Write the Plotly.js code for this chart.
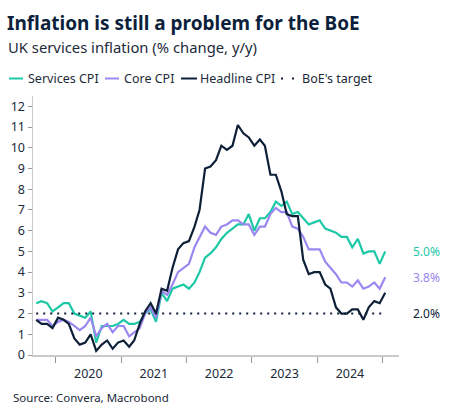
<!DOCTYPE html>
<html>
<head>
<meta charset="utf-8">
<script src="https://cdn.plot.ly/plotly-3.0.1.min.js"></script>
<style>
html,body{margin:0;padding:0;background:#fff;}
#chart{width:453px;height:417px;}
</style>
</head>
<body>
<div id="chart"></div>
<script>
// Monthly observations, Sep 2019 .. Jan 2025 (plotted mid-month)
var startYear = 2019, startMonth = 9, nMonths = 65;
var months = [];
for (var i = 0; i < nMonths; i++) {
  var m0 = startMonth - 1 + i;
  var y = startYear + Math.floor(m0 / 12);
  var m = (m0 % 12) + 1;
  months.push(y + '-' + (m < 10 ? '0' : '') + m + '-15');
}

var servicesCPI = [
  2.5, 2.6, 2.5, 2.1,
  2.3, 2.5, 2.5, 2.0, 1.9, 1.8, 2.1, 0.6, 1.4, 1.4, 1.4, 1.5,
  1.7, 1.5, 1.5, 1.6, 2.0, 2.2, 1.6, 3.0, 2.6, 3.2, 3.3, 3.4,
  3.2, 3.5, 4.0, 4.7, 4.9, 5.2, 5.6, 5.9, 6.1, 6.3, 6.3, 6.8,
  6.0, 6.6, 6.6, 6.9, 7.4, 7.2, 7.4, 6.8, 6.9, 6.6, 6.3, 6.4,
  6.5, 6.1, 6.0, 5.9, 5.7, 5.7, 5.2, 5.6, 4.9, 5.0, 5.0, 4.4,
  5.0
];
var coreCPI = [
  1.7, 1.7, 1.7, 1.4,
  1.6, 1.7, 1.6, 1.4, 1.2, 1.4, 1.8, 0.9, 1.3, 1.5, 1.1, 1.4,
  1.4, 0.9, 1.1, 1.3, 2.0, 2.3, 1.8, 3.1, 2.9, 3.4, 4.0, 4.2,
  4.4, 5.2, 5.7, 6.2, 5.9, 5.8, 6.2, 6.3, 6.5, 6.5, 6.3, 6.3,
  5.8, 6.2, 6.2, 6.8, 7.1, 6.9, 6.9, 6.2, 6.1, 5.7, 5.1, 5.1,
  5.1, 4.5, 4.2, 3.9, 3.5, 3.5, 3.3, 3.6, 3.2, 3.3, 3.5, 3.2,
  3.75
];
var headlineCPI = [
  1.7, 1.5, 1.5, 1.3,
  1.8, 1.7, 1.5, 0.8, 0.5, 0.6, 1.0, 0.2, 0.5, 0.7, 0.3, 0.6,
  0.7, 0.4, 0.7, 1.5, 2.1, 2.5, 2.0, 3.2, 3.1, 4.2, 5.1, 5.4,
  5.5, 6.2, 7.0, 9.0, 9.1, 9.4, 10.1, 9.9, 10.1, 11.1, 10.7, 10.5,
  10.1, 10.4, 10.1, 8.7, 8.7, 7.9, 6.8, 6.7, 6.7, 4.6, 3.9, 4.0,
  4.0, 3.4, 3.2, 2.3, 2.0, 2.0, 2.2, 2.2, 1.7, 2.3, 2.6, 2.5,
  3.0
];
var boeTarget = 2.0;
var targetLine = months.map(function () { return boeTarget; });

var seriesNames = ['Services CPI', 'Core CPI', 'Headline CPI', "BoE's target"];
var endLabels = ['5.0%', '3.8%', '2.0%'];
var yTickVals = [0,1,2,3,4,5,6,7,8,9,10,11,12];

var cTeal = '#1dc8a7', cLav = '#9c87f1', cNavy = '#0e2038';
var FONT = 'Noto Sans, Open Sans, sans-serif';
var LW = 2.2;

var traces = [
  {x: months, y: servicesCPI, name: seriesNames[0], type: 'scatter', mode: 'lines',
   line: {color: cTeal, width: LW}, showlegend: false, hoverinfo: 'skip'},
  {x: months, y: coreCPI, name: seriesNames[1], type: 'scatter', mode: 'lines',
   line: {color: cLav, width: LW}, showlegend: false, hoverinfo: 'skip'},
  {x: months, y: headlineCPI, name: seriesNames[2], type: 'scatter', mode: 'lines',
   line: {color: cNavy, width: LW}, showlegend: false, hoverinfo: 'skip'},
  {x: months, y: targetLine, name: seriesNames[3], type: 'scatter', mode: 'lines',
   line: {color: cNavy, width: 2, dash: '2px,5px'}, showlegend: false, hoverinfo: 'skip'}
];

var lastIdx = nMonths - 1;
var W = 453, H = 417;

var annotations = [
  {text: 'UK services inflation (% change, y/y)', xref: 'paper', yref: 'paper',
   x: 0, y: 1, showarrow: false, xanchor: 'left', yanchor: 'middle',
   font: {family: FONT, size: 14.8, color: '#1c2a3a'}},
  {text: 'Source: Convera, Macrobond', xref: 'paper', yref: 'paper',
   x: 0, y: 0, showarrow: false, xanchor: 'left', yanchor: 'middle',
   font: {family: FONT, size: 11.5, color: '#1c2a3a'}},
  {text: endLabels[0], x: months[lastIdx], y: servicesCPI[lastIdx], xref: 'x', yref: 'y',
   showarrow: false, xanchor: 'left', xshift: 26, font: {family: FONT, size: 12, color: cTeal}},
  {text: endLabels[1], x: months[lastIdx], y: coreCPI[lastIdx], xref: 'x', yref: 'y',
   showarrow: false, xanchor: 'left', xshift: 26, font: {family: FONT, size: 12, color: cLav}},
  {text: endLabels[2], x: months[lastIdx], y: boeTarget, xref: 'x', yref: 'y',
   showarrow: false, xanchor: 'left', xshift: 26, font: {family: FONT, size: 12, color: cNavy}}
];

// legend (drawn manually to match compact symbols)
var legendItems = [
  {label: seriesNames[0], color: cTeal, x0: 9, x1: 23, tx: 26},
  {label: seriesNames[1], color: cLav, x0: 105, x1: 119, tx: 122},
  {label: seriesNames[2], color: cNavy, x0: 181, x1: 197, tx: 198},
  {label: seriesNames[3], color: cNavy, x0: 281, x1: 295, tx: 300, dot: true}
];
var legendY = 78.5;

var margin = {l: 33, r: 54, t: 96, b: 62};
var plotW = W - margin.l - margin.r, plotH = H - margin.t - margin.b;
function paperX(x) { return (x - margin.l) / plotW; }
function paperY(y) { return (H - margin.b - y) / plotH; }

annotations[0].x = paperX(6); annotations[0].y = paperY(47);
annotations[1].x = paperX(10.5); annotations[1].y = paperY(397);

var shapes = [];
legendItems.forEach(function (it) {
  shapes.push({type: 'line', xref: 'paper', yref: 'paper',
    x0: paperX(it.x0), x1: paperX(it.x1), y0: paperY(legendY), y1: paperY(legendY),
    line: {color: it.color, width: 2, dash: it.dot ? '2px,9px' : 'solid'}});
  annotations.push({text: it.label, xref: 'paper', yref: 'paper',
    x: paperX(it.tx), y: paperY(legendY),
    showarrow: false, xanchor: 'left', yanchor: 'middle',
    font: {family: FONT, size: 12.5, color: '#1c2a3a'}});
});

var layout = {
  width: W, height: H,
  margin: margin,
  paper_bgcolor: '#ffffff', plot_bgcolor: '#ffffff',
  font: {family: FONT, color: '#1c2a3a'},
  title: {text: '<b>Inflation is still a problem for the BoE</b>',
    xref: 'container', yref: 'container', x: 7 / W, xanchor: 'left',
    y: 1 - 23 / H, yanchor: 'middle',
    font: {family: FONT, size: 19, color: '#0c1f3b'}},
  xaxis: {
    type: 'date', range: ['2019-08-28', '2025-04-02'],
    showgrid: false, zeroline: false,
    showline: true, linecolor: '#c9c9c9', linewidth: 1.5,
    ticks: 'outside', ticklen: 6, tickcolor: '#9a9a9a', tickwidth: 1,
    dtick: 'M12', tick0: '2020-01-01', tickformat: '%Y', ticklabelmode: 'period',
    tickfont: {family: FONT, size: 12.5, color: '#1c2a3a'},
    fixedrange: true
  },
  yaxis: {
    range: [0, 12.5], showgrid: false, zeroline: false,
    showline: true, linecolor: '#c9c9c9', linewidth: 1.5,
    ticks: 'outside', ticklen: 4, tickcolor: '#9a9a9a', tickwidth: 1,
    tickvals: yTickVals,
    tickfont: {family: FONT, size: 12.5, color: '#1c2a3a'},
    fixedrange: true
  },
  showlegend: false,
  annotations: annotations,
  shapes: shapes
};

Plotly.newPlot('chart', traces, layout, {displayModeBar: false, staticPlot: true});
</script>
</body>
</html>
